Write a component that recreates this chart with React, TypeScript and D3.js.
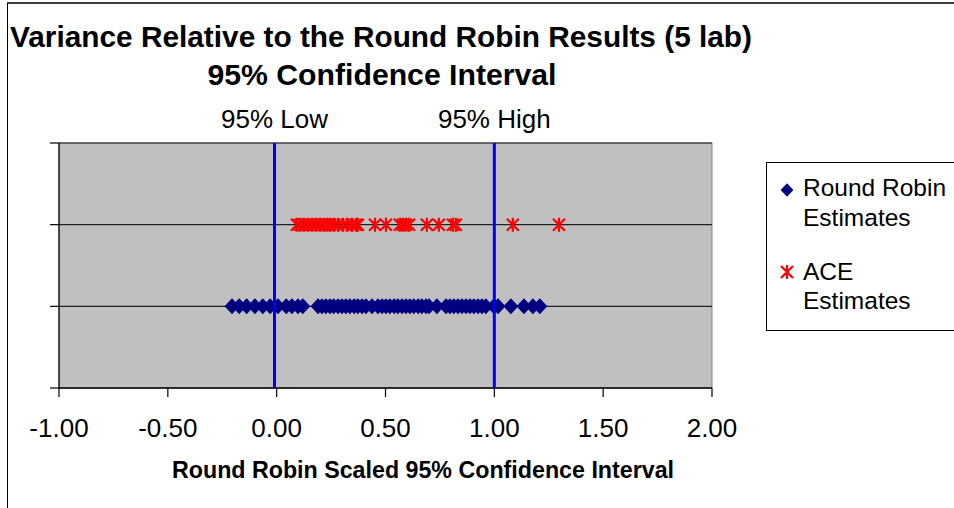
import React from "react";
import * as d3 from "d3";

const titleLines = ["Variance Relative to the Round Robin Results (5 lab)", "95% Confidence Interval"];
const xAxisTitle = "Round Robin Scaled 95% Confidence Interval";
const xTicks = [-1, -0.5, 0, 0.5, 1, 1.5, 2];
const yTicks = [0, 1, 2, 3];
const ciLabels = ["95% Low", "95% High"];
const ciValues = [-0.01, 1.0];
const roundRobinRow = 1;
const aceRow = 2;

const roundRobin = [
  -0.205, -0.172, -0.138, -0.1, -0.064, -0.03, 0.006, 0.044, 0.07, 0.098, 0.12,
  0.19, 0.208, 0.226, 0.245, 0.262, 0.282, 0.3, 0.318, 0.336, 0.356, 0.373, 0.392, 0.41,
  0.438, 0.465, 0.484, 0.502, 0.52, 0.54, 0.557, 0.576, 0.594, 0.612, 0.63, 0.65, 0.667,
  0.686, 0.7, 0.736, 0.778, 0.796, 0.814, 0.833, 0.851, 0.87, 0.888, 0.906, 0.925, 0.943,
  0.961, 0.998, 1.017, 1.076, 1.136, 1.177, 1.209,
];

const ace = [
  0.093, 0.107, 0.125, 0.144, 0.162, 0.181, 0.199, 0.217, 0.231, 0.245, 0.263, 0.282,
  0.305, 0.323, 0.346, 0.364, 0.373, 0.452, 0.502, 0.566, 0.58, 0.594, 0.608, 0.69,
  0.745, 0.81, 0.823, 1.085, 1.297,
];

const W = 954;
const H = 508;
const plot = { left: 59, right: 712, top: 143, bottom: 388 };
const FONT = "Arial, 'Liberation Sans', Helvetica, sans-serif";

const diamondPath = "M0,-8L7.5,0L0,8L-7.5,0Z";
const starPath = "M0,-7L0,7M-6,-6L6,6M-6,6L6,-6";

export default function App() {
  const x = d3.scaleLinear().domain([-1, 2]).range([plot.left, plot.right]);
  const y = d3.scaleLinear().domain([0, 3]).range([plot.bottom, plot.top]);
  const fmt = (v: number) => d3.format(".2f")(v).replace("\u2212", "-");

  return (
    <svg
      width={W}
      height={H}
      style={{ position: "absolute", left: 0, top: 0, background: "#fff" }}
      fontFamily={FONT}
    >
      <rect x={0} y={0} width={W} height={H} fill="#fff" />
      {/* outer chart border */}
      <line x1={7} y1={3} x2={W} y2={3} stroke="#404040" strokeWidth={2} />
      <line x1={7.5} y1={3} x2={7.5} y2={H} stroke="#000" strokeWidth={1} />

      {/* titles */}
      <text x={381} y={47} textAnchor="middle" fontSize={30} fontWeight="bold" textLength={742} lengthAdjust="spacingAndGlyphs">
        {titleLines[0]}
      </text>
      <text x={382} y={85} textAnchor="middle" fontSize={30} fontWeight="bold" textLength={349} lengthAdjust="spacingAndGlyphs">
        {titleLines[1]}
      </text>

      {/* plot area */}
      <rect x={plot.left} y={plot.top} width={plot.right - plot.left} height={plot.bottom - plot.top} fill="#C0C0C0" stroke="#808080" strokeWidth={1} />

      {/* horizontal gridlines */}
      {yTicks.filter((t) => t > 0).map((t) => (
        <line key={"g" + t} x1={plot.left} x2={plot.right} y1={y(t)} y2={y(t)} stroke="#222" strokeWidth={1.2} />
      ))}

      {/* y axis */}
      <line x1={plot.left} x2={plot.left} y1={plot.top} y2={plot.bottom} stroke="#000" strokeWidth={1.2} />
      {yTicks.map((t) => (
        <line key={"yt" + t} x1={plot.left - 9} x2={plot.left} y1={y(t)} y2={y(t)} stroke="#000" strokeWidth={1.2} />
      ))}

      {/* x axis */}
      <line x1={plot.left} x2={plot.right} y1={plot.bottom} y2={plot.bottom} stroke="#000" strokeWidth={1.5} />
      {xTicks.map((t) => (
        <g key={"xt" + t}>
          <line x1={x(t)} x2={x(t)} y1={plot.bottom} y2={plot.bottom + 9} stroke="#000" strokeWidth={1.2} />
          <text x={x(t)} y={437} textAnchor="middle" fontSize={26}>
            {fmt(t)}
          </text>
        </g>
      ))}

      {/* markers */}
      {roundRobin.map((v, i) => (
        <path key={"rr" + i} d={diamondPath} transform={`translate(${x(v)},${y(roundRobinRow)})`} fill="#000080" />
      ))}
      {ace.map((v, i) => (
        <path key={"ace" + i} d={starPath} transform={`translate(${x(v)},${y(aceRow)})`} fill="none" stroke="#FF0000" strokeWidth={2.2} />
      ))}

      {/* CI lines */}
      {ciValues.map((v, i) => (
        <g key={"ci" + i}>
          <line x1={x(v)} x2={x(v)} y1={plot.top} y2={plot.bottom} stroke="#0000FF" strokeWidth={3} />
          <text x={x(v)} y={128} textAnchor="middle" fontSize={26}>
            {ciLabels[i]}
          </text>
        </g>
      ))}

      {/* x axis title */}
      <text x={423} y={478} textAnchor="middle" fontSize={23} fontWeight="bold" textLength={502} lengthAdjust="spacingAndGlyphs">
        {xAxisTitle}
      </text>

      {/* legend */}
      <rect x={766.5} y={162.5} width={200} height={168} fill="#fff" stroke="#000" strokeWidth={1} />
      <path d={diamondPath} transform="translate(787,190) scale(0.85)" fill="#000080" />
      <text x={803} y={196} fontSize={24.5}>Round Robin</text>
      <text x={803} y={226} fontSize={24.5}>Estimates</text>
      <path d={starPath} transform="translate(787,272)" fill="none" stroke="#FF0000" strokeWidth={2.2} />
      <text x={803} y={280} fontSize={24.5}>ACE</text>
      <text x={803} y={309} fontSize={24.5}>Estimates</text>
    </svg>
  );
}
